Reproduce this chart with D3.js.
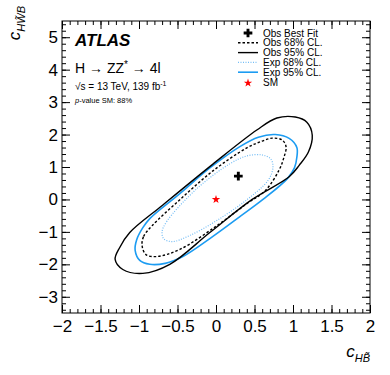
<!DOCTYPE html>
<html>
<head>
<meta charset="utf-8">
<script src="https://cdn.jsdelivr.net/npm/d3@7"></script>
<style>
  body { margin: 0; background: #fff; }
  text { font-family: "Liberation Sans", Arial, sans-serif; }
</style>
</head>
<body>
<svg width="390" height="375"></svg>
<script>
// contours, [cHB~, cHW~B]
const obs95 = [[-1.31,-1.85],[-1.25,-1.48],[-1.12,-1.02],[-0.69,-0.17],[-0.04,1.09],[0.53,2.14],[0.79,2.51],
  [1.03,2.54],[1.18,2.38],[1.25,1.98],[1.20,1.46],[1.08,1.05],[0.95,0.70],[0.47,0.0],[-0.08,-1.02],
  [-0.60,-2.0],[-0.95,-2.28],[-1.21,-2.16]];
const exp95 = [[-1.05,-1.57],[-1.03,-1.24],[-0.95,-0.87],[-0.86,-0.59],[-0.47,0.18],[-0.08,0.97],[0.31,1.63],
  [0.55,1.92],[0.77,2.0],[0.95,1.88],[1.05,1.60],[1.05,1.30],[1.02,0.98],[0.93,0.65],[0.61,0.0],[0.31,-0.53],
  [-0.04,-1.14],[-0.43,-1.76],[-0.66,-1.97],[-0.86,-2.0],[-0.99,-1.88]];
const obs68 = [[-0.96,-1.42],[-0.94,-1.14],[-0.83,-0.81],[-0.47,-0.01],[-0.04,0.88],[0.40,1.59],[0.60,1.80],
  [0.73,1.89],[0.86,1.83],[0.91,1.62],[0.88,1.28],[0.82,0.91],[0.64,0.27],[0.40,-0.13],[0.01,-0.81],
  [-0.47,-1.54],[-0.77,-1.76],[-0.91,-1.70]];
const exp68 = [[-0.70,-0.99],[-0.64,-0.68],[-0.25,0.33],[0.18,1.10],[0.40,1.34],[0.60,1.37],[0.71,1.25],
  [0.74,1.0],[0.68,0.60],[0.40,-0.01],[0.01,-0.65],[-0.34,-1.11],[-0.57,-1.30],[-0.68,-1.21]];
const bestFit = [0.29, 0.72];
const smPoint = [0, 0];

const xTicks = [-2, -1.5, -1, -0.5, 0, 0.5, 1, 1.5, 2];
const yTicks = [-3, -2, -1, 0, 1, 2, 3, 4, 5];
const legendLabels = ["Obs Best Fit", "Obs 68% CL.", "Obs 95% CL.", "Exp 68% CL.", "Exp 95% CL.", "SM"];

const svg = d3.select("svg");
const L = 62, R = 370, T = 21, B = 313;
const blue = "#1c9cf2", lightBlue = "#74bdf5";

const x = d3.scaleLinear().domain([-2, 2]).range([L, R]);
const y = d3.scaleLinear().domain([-3.5, 5.5]).range([B, T]);
const fmt = d => d3.format("~g")(d);

const xMinor = d3.range(-2, 2.001, 0.1).map(v => +v.toFixed(2));
const yMinor = d3.range(-3.4, 5.5, 0.2).map(v => +v.toFixed(2));

function axis(gen, scale, pos, vals, size, labels) {
  const a = gen(scale).tickValues(vals).tickSizeInner(-size).tickSizeOuter(0);
  a.tickFormat(labels ? fmt : "").tickPadding(labels ? (gen === d3.axisLeft ? 4 : 7) : 0);
  const g = svg.append("g").attr("transform", pos).call(a);
  g.select(".domain").remove();
  g.selectAll("line").attr("stroke", "#000");
  g.selectAll("text").attr("font-family", "Liberation Sans, Arial, sans-serif")
    .attr("font-size", 17).attr("fill", "#000");
  return g;
}
axis(d3.axisBottom, x, `translate(0,${B})`, xTicks, 8, true);
axis(d3.axisBottom, x, `translate(0,${B})`, xMinor, 4, false);
axis(d3.axisTop, x, `translate(0,${T})`, xTicks, 8, false);
axis(d3.axisTop, x, `translate(0,${T})`, xMinor, 4, false);
axis(d3.axisLeft, y, `translate(${L},0)`, yTicks, 8, true);
axis(d3.axisLeft, y, `translate(${L},0)`, yMinor, 4, false);
axis(d3.axisRight, y, `translate(${R},0)`, yTicks, 8, false);
axis(d3.axisRight, y, `translate(${R},0)`, yMinor, 4, false);

svg.append("rect").attr("x", L).attr("y", T).attr("width", R - L).attr("height", B - T)
  .attr("fill", "none").attr("stroke", "#000").attr("stroke-width", 1);

const line = d3.line().x(d => x(d[0])).y(d => y(d[1])).curve(d3.curveCatmullRomClosed.alpha(0.5));

const contours = [
  {data: exp68, stroke: lightBlue, width: 1.2, dash: "1,1.5"},
  {data: exp95, stroke: blue, width: 1.6, dash: null},
  {data: obs68, stroke: "#000", width: 1.4, dash: "2.5,2"},
  {data: obs95, stroke: "#000", width: 1.4, dash: null}
];
svg.selectAll(".contour").data(contours).enter().append("path")
  .attr("class", "contour")
  .attr("d", d => line(d.data))
  .attr("fill", "none")
  .attr("stroke", d => d.stroke)
  .attr("stroke-width", d => d.width)
  .attr("stroke-dasharray", d => d.dash);

svg.append("path").attr("d", d3.symbol(d3.symbolCross, 42)())
  .attr("transform", `translate(${x(bestFit[0])},${y(bestFit[1])})`).attr("fill", "#000");
svg.append("path").attr("d", d3.symbol(d3.symbolStar, 22)())
  .attr("transform", `translate(${x(smPoint[0])},${y(smPoint[1])})`).attr("fill", "#f00");

// legend
const styles = [null, contours[2], contours[3], contours[0], contours[1], null];
const rows = svg.append("g").selectAll("g").data(legendLabels).enter().append("g")
  .attr("transform", (d, i) => `translate(0,${33 + i * 9.8})`);
rows.append("text").attr("x", 263).attr("y", 3.6).attr("font-size", 10).text(d => d);
rows.filter((d, i) => styles[i]).append("line")
  .attr("x1", 238).attr("x2", 258)
  .attr("stroke", d => styles[legendLabels.indexOf(d)].stroke)
  .attr("stroke-width", d => styles[legendLabels.indexOf(d)].width)
  .attr("stroke-dasharray", d => styles[legendLabels.indexOf(d)].dash);
rows.filter((d, i) => i === 0).append("path").attr("d", d3.symbol(d3.symbolCross, 42)())
  .attr("transform", "translate(248,0)");
rows.filter((d, i) => i === 5).append("path").attr("d", d3.symbol(d3.symbolStar, 22)())
  .attr("transform", "translate(248,1)").attr("fill", "#f00");

// labels
svg.append("text").attr("x", 75).attr("y", 46).attr("font-size", 17)
  .attr("font-weight", "bold").attr("font-style", "italic").text("ATLAS");
const t1 = svg.append("text").attr("x", 75).attr("y", 73).attr("font-size", 14);
t1.append("tspan").text("H \u2192 ZZ");
t1.append("tspan").attr("dy", -5).attr("font-size", 10).text("*");
t1.append("tspan").attr("dy", 5).text(" \u2192 4l");
const t2 = svg.append("text").attr("x", 75).attr("y", 90).attr("font-size", 10);
t2.append("tspan").text("\u221As = 13 TeV, 139 fb");
t2.append("tspan").attr("dy", -4).attr("font-size", 7).text("-1");
const t3 = svg.append("text").attr("x", 75).attr("y", 103).attr("font-size", 7.5);
t3.append("tspan").attr("font-style", "italic").text("p");
t3.append("tspan").text("-value SM: 88%");

const xt = svg.append("text").attr("x", R).attr("y", 357).attr("text-anchor", "end").attr("font-size", 17);
xt.append("tspan").attr("font-style", "italic").text("c");
xt.append("tspan").attr("dy", 5).attr("font-size", 11).attr("font-style", "italic").text("HB\u0303");

const yt = svg.append("text").attr("transform", "translate(20,6) rotate(-90)")
  .attr("text-anchor", "end").attr("font-size", 17);
yt.append("tspan").attr("font-style", "italic").text("c");
yt.append("tspan").attr("dy", 5).attr("font-size", 11).attr("font-style", "italic").text("HW\u0303B");
</script>
</body>
</html>
